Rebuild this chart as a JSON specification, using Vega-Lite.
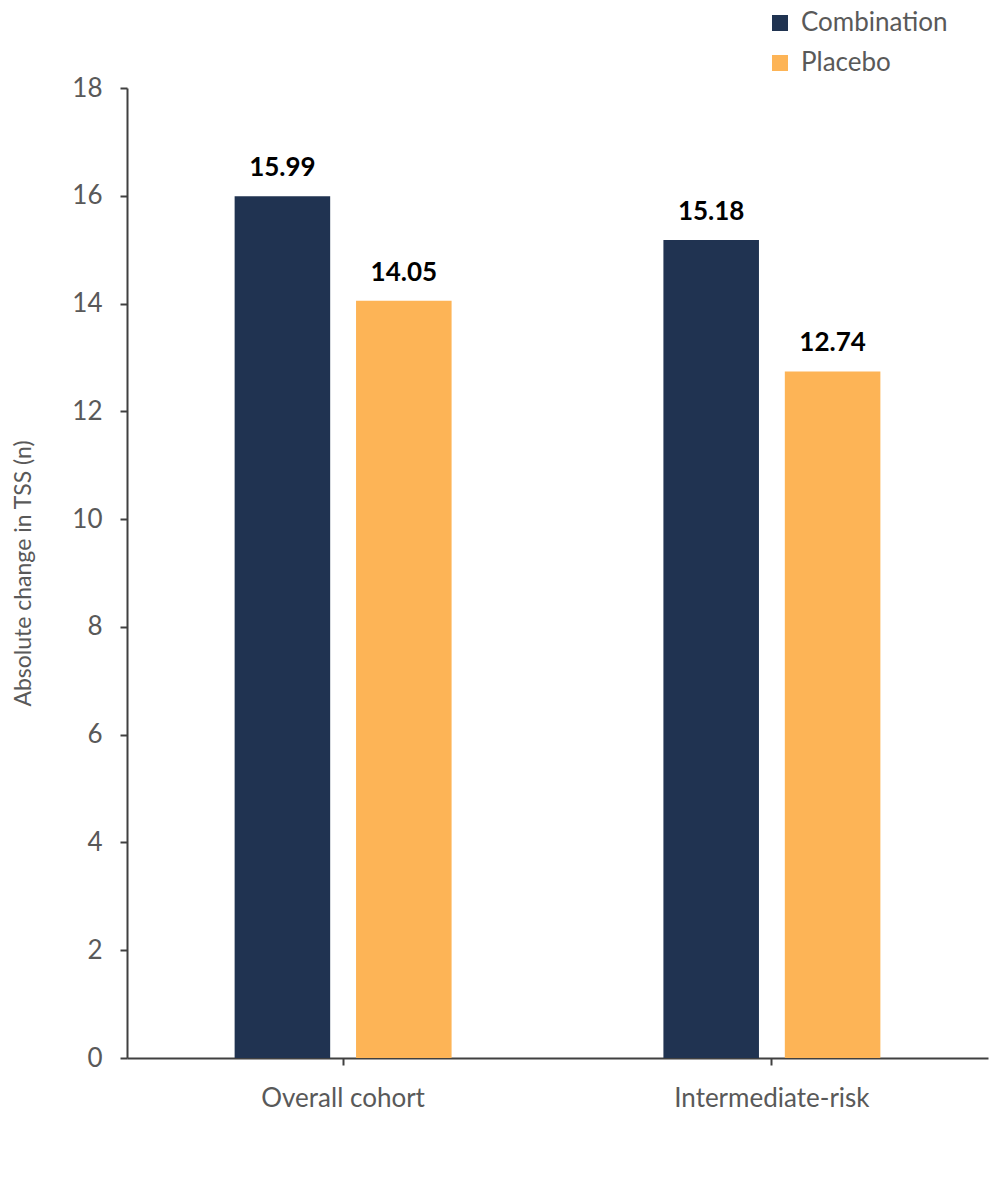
{
  "$schema": "https://vega.github.io/schema/vega-lite/v6.json",
  "autosize": "none",
  "width": 861,
  "height": 970,
  "padding": {"left": 127, "top": 88, "right": 12, "bottom": 121},
  "background": "white",
  "config": {
    "view": {"stroke": null},
    "font": "Lato",
    "axis": {"grid": false, "domainColor": "#404040", "domainWidth": 2, "tickColor": "#404040", "tickWidth": 2, "tickSize": 7, "labelColor": "#595959", "titleColor": "#595959", "labelFont": "Lato", "titleFont": "Lato", "labelFontSize": 26, "titleFontSize": 23, "titleFontWeight": "normal", "labelLimit": 0}
  },
  "data": {
    "values": [
      {"cohort": "Overall cohort", "group": "Combination", "value": 15.99},
      {"cohort": "Overall cohort", "group": "Placebo", "value": 14.05},
      {"cohort": "Intermediate-risk", "group": "Combination", "value": 15.18},
      {"cohort": "Intermediate-risk", "group": "Placebo", "value": 12.74}
    ]
  },
  "encoding": {
    "x": {"field": "cohort", "type": "nominal", "sort": ["Overall cohort", "Intermediate-risk"],
      "scale": {"paddingInner": 0.494, "paddingOuter": 0.251},
      "axis": {"title": null, "labelAngle": 0, "labelPadding": 20, "labelLimit": 0}},
    "xOffset": {"field": "group", "type": "nominal", "sort": ["Combination", "Placebo"], "scale": {"paddingInner": 0.213, "paddingOuter": 0}},
    "y": {"field": "value", "type": "quantitative", "scale": {"domain": [0, 18], "nice": false},
      "axis": {"title": "Absolute change in TSS (n)", "values": [0,2,4,6,8,10,12,14,16,18], "labelPadding": 18, "titlePadding": 36}}
  },
  "layer": [
    {
      "mark": {"type": "bar"},
      "encoding": {
        "color": {"field": "group", "type": "nominal", "sort": ["Combination", "Placebo"],
          "scale": {"domain": ["Combination", "Placebo"], "range": ["#203351", "#FDB456"]},
          "legend": {"title": null, "orient": "none", "legendX": 640, "legendY": -78, "symbolType": "square", "symbolSize": 256, "symbolStrokeWidth": 0, "labelFontSize": 26, "labelColor": "#595959", "labelFont": "Lato", "rowPadding": 14, "labelOffset": 8}}
      }
    },
    {
      "mark": {"type": "text", "baseline": "bottom", "dy": -15, "fontSize": 26, "fontWeight": "bold", "color": "#000000", "font": "Lato"},
      "encoding": {"text": {"field": "value", "type": "quantitative", "format": ".2f"}}
    }
  ]
}
